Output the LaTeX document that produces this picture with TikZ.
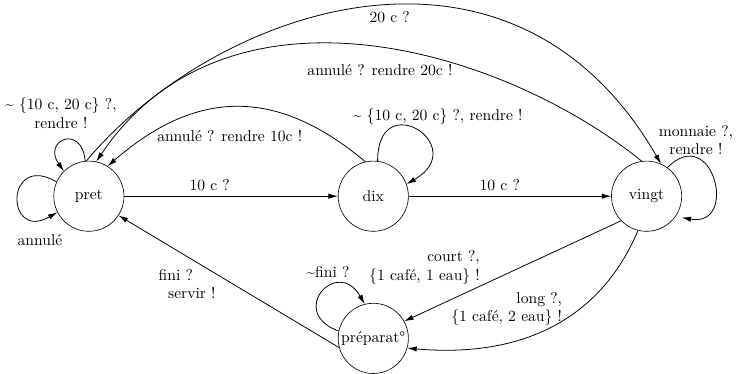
\documentclass[tikz,border=0pt]{standalone}
\usepackage{xcolor}
\usetikzlibrary{arrows.meta}

\begin{document}
\begin{tikzpicture}
	\tikzstyle{state} = [draw, circle, minimum size=1.58cm, inner sep=0pt]
	\tikzstyle{txt} = [inner sep=1pt, align=center]
	\tikzset{trans/.style = {->, >={Latex[length=6pt,width=3.4pt]}, line width=0.5pt}}
	\useasboundingbox (-2,-4) rectangle (14.63,4.415);

	\node[state](pret) at (0,0) {pret};
	\node[state](dix) at (6.4,0) {dix};
	\node[state](vingt) at (12.55,0) {vingt};
	\node[state](prep) at (6.4,-3.2) {\makebox[0pt]{préparat°}};

	% pieces de 10 c
	\draw[trans](pret) -- node[above, pos=0.4](l10a){10 c ?} (dix);
	\draw[trans](dix) -- node[above, pos=0.45](l10b){10 c ?} (vingt);

	% 20 c et annulations
	\draw[trans](pret.94) .. controls +(50:4.5) and +(120:6.75) .. (vingt.66);
	\draw[trans](vingt.98) .. controls +(141:4.05) and +(56:5.27) .. (pret.78);
	\draw[trans](dix.103) .. controls +(140:2.63) and +(41:2.63) .. (pret.58);
	\node[txt](l20) at (6.77,4.03) {20 c ?};
	\node[txt](lrend20) at (6.55,2.835) {annulé ? rendre 20c !};
	\node[txt](lrend10) at (3.17,1.35) {annulé ? rendre 10c !};

	% boucles
	\draw[trans](pret.96) .. controls +(95:0.85) and +(125:0.85) .. (pret.135);
	\draw[trans](pret.156) .. controls +(150:1.35) and +(210:1.35) .. (pret.207);
	\draw[trans](dix.83) .. controls +(90:1.7) and +(30:1.7) .. (dix.20);
	\draw[trans, shorten >=4pt](vingt.54) .. controls +(45:1.45) and +(-10:1.45) .. (vingt.-35);
	\draw[trans](prep.168) .. controls +(160:1.24) and +(120:1.24) .. (prep.104);
	\node[txt](lpret) at (-0.63,1.86) {\textasciitilde\ \{10 c, 20 c\} ?,\\rendre !};
	\node[txt](lannul) at (-1.1,-0.99) {annulé};
	\node[txt](ldix) at (7.85,1.8) {\textasciitilde\ \{10 c, 20 c\} ?, rendre !};
	\node[txt](lmonnaie) at (13.66,1.26) {monnaie ?,\\rendre !};
	\node[txt](lnfini) at (5.38,-1.71) {\textasciitilde fini ?};

	% preparation
	\draw[trans](vingt.224) -- (prep.29);
	\draw[trans](vingt.256) .. controls +(247:2.25) and +(-5:2.5) .. (prep.-16);
	\draw[trans](prep.195) -- (pret.-33);
	\node[txt, anchor=east, align=right](lcourt) at (8.84,-1.61) {court ?,\\\{1 café, 1 eau\} !};
	\node[txt, anchor=east, align=right](llong) at (10.69,-2.54) {long ?,\\\{1 café, 2 eau\} !};
	\node[txt, anchor=west, align=left](lfini) at (1.53,-1.98) {fini ?\\\hspace{0.6em}servir !};

\end{tikzpicture}
\end{document}
